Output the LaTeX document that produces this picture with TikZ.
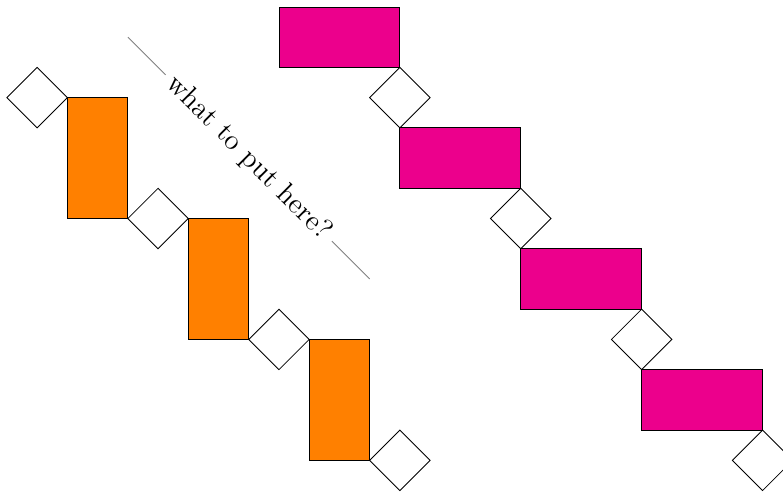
\documentclass[tikz,border=0pt]{standalone}
\usepackage{tikz}
\usetikzlibrary{shapes.geometric}
\definecolor{pinkbox}{HTML}{EC008C}

\begin{document}
\begin{tikzpicture}[
  obox/.style={draw, fill=orange, minimum width=1cm, minimum height=2cm, inner sep=0pt, outer sep=0pt},
  mbox/.style={draw, fill=pinkbox, minimum width=2cm, minimum height=1cm, inner sep=0pt, outer sep=0pt},
  dia/.style={draw, diamond, aspect=1, minimum size=1cm, inner sep=0pt, outer sep=0pt}]
\useasboundingbox (0,0) rectangle (12.953,-8.156);
% orange staircase
\node[dia] (d1) at (0.615,-1.615) {};
\node[obox, anchor=north west] (r1) at (d1.east) {};
\node[dia, anchor=west] (d2) at (r1.south east) {};
\node[obox, anchor=north west] (r2) at (d2.east) {};
\node[dia, anchor=west] (d3) at (r2.south east) {};
\node[obox, anchor=north west] (r3) at (d3.east) {};
\node[dia, anchor=west] (d4) at (r3.south east) {};
% magenta staircase
\node[mbox, anchor=north west] (m1) at (4.615,-0.115) {};
\node[dia, anchor=north] (e1) at (m1.south east) {};
\node[mbox, anchor=north west] (m2) at (e1.south) {};
\node[dia, anchor=north] (e2) at (m2.south east) {};
\node[mbox, anchor=north west] (m3) at (e2.south) {};
\node[dia, anchor=north] (e3) at (m3.south east) {};
\node[mbox, anchor=north west] (m4) at (e3.south) {};
\node[dia, anchor=north] (e4) at (m4.south east) {};
% slanted label
\coordinate (la) at ([yshift=1cm]r1.north east);
\coordinate (lb) at ([yshift=1cm]r3.north east);
\draw[gray] (la) -- node[sloped, fill=white, text=black, font=\fontsize{13.5}{16}\selectfont] {what to put here?} (lb);
\end{tikzpicture}
\end{document}
